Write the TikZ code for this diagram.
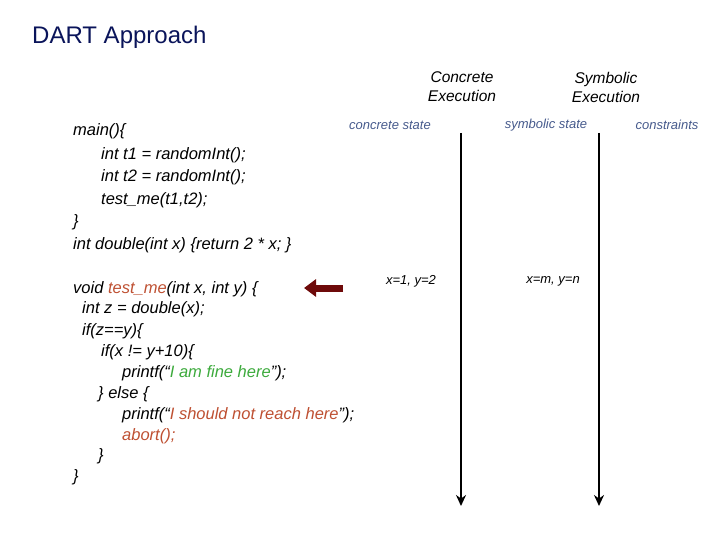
\documentclass[tikz,border=0pt]{standalone}
\usepackage{fontspec}
\setmainfont{Liberation Sans}
\usetikzlibrary{arrows.meta,positioning}
\definecolor{titleColor}{RGB}{10,20,90}
\definecolor{stateColor}{RGB}{70,90,140}
\definecolor{nameColor}{RGB}{190,80,50}
\definecolor{fineColor}{RGB}{60,170,60}
\definecolor{arrowColor}{RGB}{110,10,10}
\tikzset{
  code/.style={anchor=west,inner sep=0pt,font=\fontsize{16.5}{18}\selectfont\itshape},
  head/.style={align=center,inner sep=0pt,font=\fontsize{15.5}{19}\selectfont\itshape},
  state/.style={inner sep=0pt,text=stateColor,font=\fontsize{13}{15}\selectfont\itshape},
  val/.style={inner sep=0pt,font=\fontsize{13}{15}\selectfont\itshape},
  timeline/.style={-{Stealth[length=11pt,width=10pt]},line width=2pt}
}
\begin{document}
\begin{tikzpicture}[x=1pt,y=-1pt]
				\useasboundingbox (0,0) rectangle (720,540);
				\node[anchor=west,inner sep=0pt,text=titleColor,font=\fontsize{24}{28}\selectfont] (title) at (32,37) {DART Approach};
				
				\node[head] (conc) at (462,87) {Concrete\\Execution};
				\node[head] (symb) at (606,87) {Symbolic\\Execution};
				\node[state] (cstate) at (390,125) {concrete state};
				\node[state] (sstate) at (546,125) {symbolic state};
				\node[state] (cons) at (667,125) {constraints};
				
				\coordinate (ctop) at (461,133);
				\coordinate (cbot) at (461,506);
				\coordinate (stop) at (599,133);
				\coordinate (sbot) at (599,506);
				\draw[timeline] (ctop) -- (cbot);
				\draw[timeline] (stop) -- (sbot);
				
				\node[val] (cval) at (411,281) {x=1, y=2};
				\node[val] (sval) at (553,281) {x=m, y=n};
				
				% code
				\node[code] (l1) at (73,131) {main()\{};
				\node[code] (l2) at (101,155) {int t1 = randomInt();};
				\node[code] (l3) at (101,177) {int t2 = randomInt();};
				\node[code] (l4) at (101,200) {test\_me(t1,t2);};
				\node[code] (l5) at (73,222) {\}};
				\node[code] (l6) at (73,245) {int double(int x) \{return 2 * x; \}};
				\node[code] (l7) at (73,289) {void \textcolor{nameColor}{test\_me}(int x, int y) \{};
				\node[code] (l8) at (82,309) {int z = double(x);};
				\node[code] (l9) at (82,331) {if(z==y)\{};
				\node[code] (l10) at (101,352) {if(x != y+10)\{};
				\node[code] (l11) at (122,373) {printf(``\textcolor{fineColor}{I am fine here}'');};
				\node[code] (l12) at (98,394) {\} else \{};
				\node[code] (l13) at (122,415) {printf(``\textcolor{nameColor}{I should not reach here}'');};
				\node[code] (l14) at (122,436) {\textcolor{nameColor}{abort();}};
				\node[code] (l15) at (98,456) {\}};
				\node[code] (l16) at (73,477) {\}};
				
				\coordinate (atail) at (343,288);
				\coordinate (ahead) at (304,288);
				\draw[-{Triangle[length=12pt,width=17pt]},line width=7pt,arrowColor] (atail) -- (ahead);
\end{tikzpicture}
\end{document}
